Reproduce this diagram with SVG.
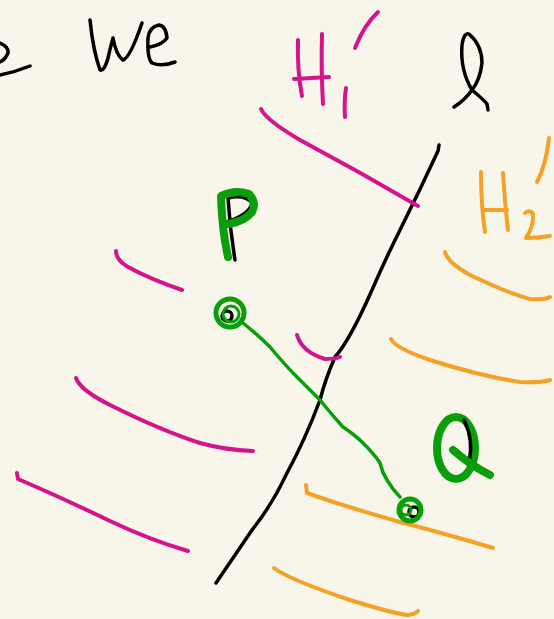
<svg xmlns="http://www.w3.org/2000/svg" width="554" height="619" viewBox="0 0 554 619">
<style>
path,ellipse,circle{fill:none;stroke-linecap:round;stroke-linejoin:round}
.k{stroke:#000;stroke-width:3.5}
.m{stroke:#d4138c;stroke-width:4}
.o{stroke:#f5a126;stroke-width:4}
.g{stroke:#0b9e0b;stroke-width:3.5}
.gt{stroke:#0b9e0b;stroke-width:8}
</style>
<rect width="554" height="619" fill="#f8f6eb"/>
<g id="writing">
<path class="k" d="M0,43 Q9,47 8,53 Q5,60 0,62"/>
<path class="k" d="M0,75 Q15,72 30,66"/>
<path class="k" d="M90,20 Q93,50 100,70 Q104,72 108,58 Q111,45 113,38 Q116,55 123,60 Q130,58 142,23"/>
<path class="k" d="M150,47 Q162,45 167,38 Q166,26 159,25 Q149,27 148,38 Q147,58 152,63 Q162,67 175,62"/>
</g>
<g id="H1">
<path class="m" d="M298,40 Q297,70 302,96"/>
<path class="m" d="M322,34 Q321,70 323,104"/>
<path class="m" d="M294,79 Q312,78 329,77"/>
<path class="m" d="M346,88 Q344,100 345,117"/>
<path class="m" d="M355,48 Q364,25 378,12"/>
</g>
<g id="l">
<path class="k" d="M454,107 Q465,100 472,90 Q460,70 462,45 Q464,32 469,34 Q482,45 482,63 Q480,80 472,90 Q484,100 487,104 L488,110"/>
</g>
<g id="H2">
<path class="o" d="M481,172 Q481,205 485,232"/>
<path class="o" d="M503,173 Q505,205 508,230"/>
<path class="o" d="M485,210 L507,210"/>
<path class="o" d="M525,213 Q530,209 533,214 Q534,226 526,238 Q538,238 550,236"/>
<path class="o" d="M537,182 Q546,165 549,138"/>
</g>
<g id="line-l">
<path class="k" d="M439,145 L438,151 Q420,190 400,230 Q385,260 372,290 Q350,340 335,357 Q325,380 320,400 Q305,440 287,473 Q272,505 252,530 Q235,555 216,583"/>
</g>
<g id="H1-lines">
<path class="m" d="M261,109 Q266,120 300,140 Q360,172 418,206"/>
<path class="m" d="M116,251 Q116,260 128,267 Q150,279 182,290"/>
<path class="m" d="M297,335 Q302,352 325,359 Q335,359 340,357"/>
<path class="m" d="M76,378 Q80,390 110,405 Q160,430 200,443 Q225,450 253,451"/>
<path class="m" d="M17,473 L18,479 Q60,497 110,521 Q150,540 188,551"/>
</g>
<g id="H2-lines">
<path class="o" d="M445,252 Q448,263 470,275 Q510,294 530,299 Q545,300 550,297"/>
<path class="o" d="M391,339 Q395,348 430,360 Q480,376 520,382 Q540,383 550,380"/>
<path class="o" d="M306,485 L307,493 Q340,505 400,522 Q450,535 493,548"/>
<path class="o" d="M274,568 Q290,580 350,600 Q395,614 408,615 Q415,614 418,611"/>
</g>
<g id="P">
<path class="k" d="M235,260 Q230,230 228,198 Q245,194 252,203 Q250,214 227,222"/>
<path class="gt" d="M228,257 Q222,230 221,196 Q235,189 249,194 Q257,203 252,212 Q245,221 229,224"/>
</g>
<g id="Q">
<ellipse class="gt" cx="456" cy="448" rx="19" ry="31"/>
<path class="k" d="M464,420 Q474,440 469,462"/>
<path class="gt" d="M453,450 Q470,465 490,475"/>
</g>
<g id="connectors">
<path class="g" d="M243,323 Q258,335 270,347 Q285,365 297,377 Q310,390 320,400 Q332,415 343,427 Q355,435 363,443 Q375,455 380,463 Q382,472 387,480 Q393,490 400,497"/>
</g>
<g id="point-P">
<circle class="k" cx="227" cy="316" r="5"/>
<circle class="g" cx="230" cy="313" r="14" style="stroke-width:5"/>
<circle class="g" cx="231" cy="314" r="8" style="stroke-width:3"/>
</g>
<g id="point-Q">
<circle class="k" cx="414" cy="512" r="5"/>
<circle class="g" cx="410" cy="510" r="11" style="stroke-width:5"/>
<circle class="g" cx="406" cy="510" r="5" style="stroke-width:3"/>
</g>
</svg>
